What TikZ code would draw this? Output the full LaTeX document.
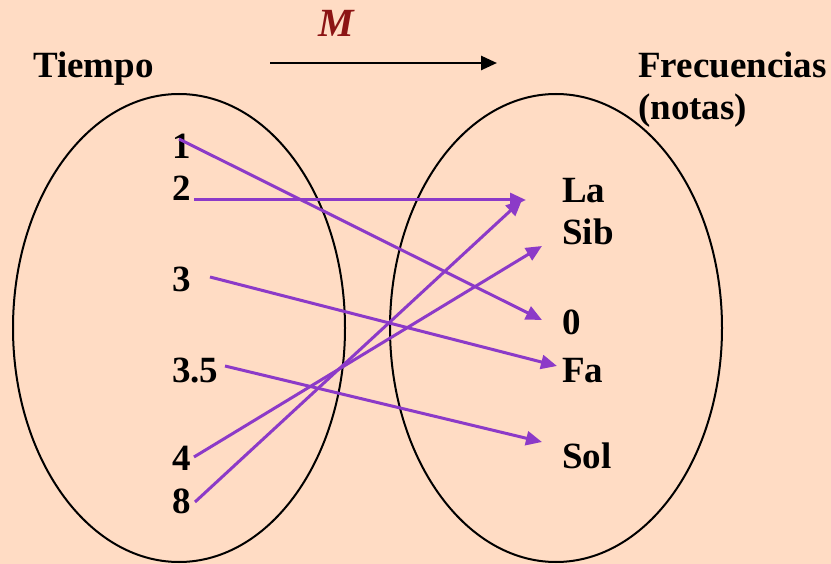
\documentclass[tikz,border=0pt]{standalone}
\usepackage{fontspec}
\setmainfont{Liberation Serif}
\usetikzlibrary{arrows.meta}
\definecolor{bg}{RGB}{255,220,196}
\definecolor{purp}{RGB}{140,58,200}
\definecolor{mred}{RGB}{140,20,20}
\begin{document}
\begin{tikzpicture}[x=1pt,y=-1pt,
  lbl/.style={anchor=base west,inner sep=0,font=\fontsize{37}{43}\selectfont\bfseries},
  conn/.style={draw=purp,line width=3pt,-{Triangle[length=16pt,width=14pt]}},
  setel/.style={draw=black,line width=2pt},
  maparrow/.style={draw=black,line width=2.6pt,-{Triangle[length=16pt,width=14pt]}}]
\fill[bg] (0,0) rectangle (831,564);
\useasboundingbox (0,0) rectangle (831,564);
% sets
\draw[setel] (179,328) ellipse [x radius=166, y radius=234];
\draw[setel] (556,328) ellipse [x radius=166, y radius=234];
% titles
\node[lbl] (tiempo) at (33,78) {Tiempo};
\node[lbl] (frec) at (638,78) {Frecuencias};
\node[lbl] (notas) at (638,120) {(notas)};
\node[anchor=base,inner sep=0,text=mred,font=\fontsize{40}{46}\selectfont\bfseries\itshape] (m) at (336,37) {M};
\coordinate (ma) at (270,63);
\coordinate (mb) at (497,63);
\draw[maparrow] (ma) -- (mb);
% domain
\node[lbl] (t1) at (172,159) {1};
\node[lbl] (t2) at (172,201) {2};
\node[lbl] (t3) at (172,292) {3};
\node[lbl] (t35) at (172,382) {3.5};
\node[lbl] (t4) at (172,470) {4};
\node[lbl] (t8) at (172,513) {8};
% codomain
\node[lbl] (la) at (562,203) {La};
\node[lbl] (sib) at (562,245) {Sib};
\node[lbl] (cero) at (562,335) {0};
\node[lbl] (fa) at (562,382) {Fa};
\node[lbl] (sol) at (562,468) {Sol};
% arrow ends
\coordinate (s1) at (179,139);
\coordinate (s2) at (194,200);
\coordinate (s3) at (210,277);
\coordinate (s35) at (225,366);
\coordinate (s4) at (194,457);
\coordinate (s8) at (195,502);
\coordinate (eLa) at (526,200);
\coordinate (eLb) at (522,200);
\coordinate (eSib) at (542,246);
\coordinate (e0) at (542,320);
\coordinate (eFa) at (557,366);
\coordinate (eSol) at (542,442);
\draw[conn] (s1) -- (e0);
\draw[conn] (s2) -- (eLa);
\draw[conn] (s3) -- (eFa);
\draw[conn] (s35) -- (eSol);
\draw[conn] (s4) -- (eSib);
\draw[conn] (s8) -- (eLb);
\end{tikzpicture}
\end{document}
